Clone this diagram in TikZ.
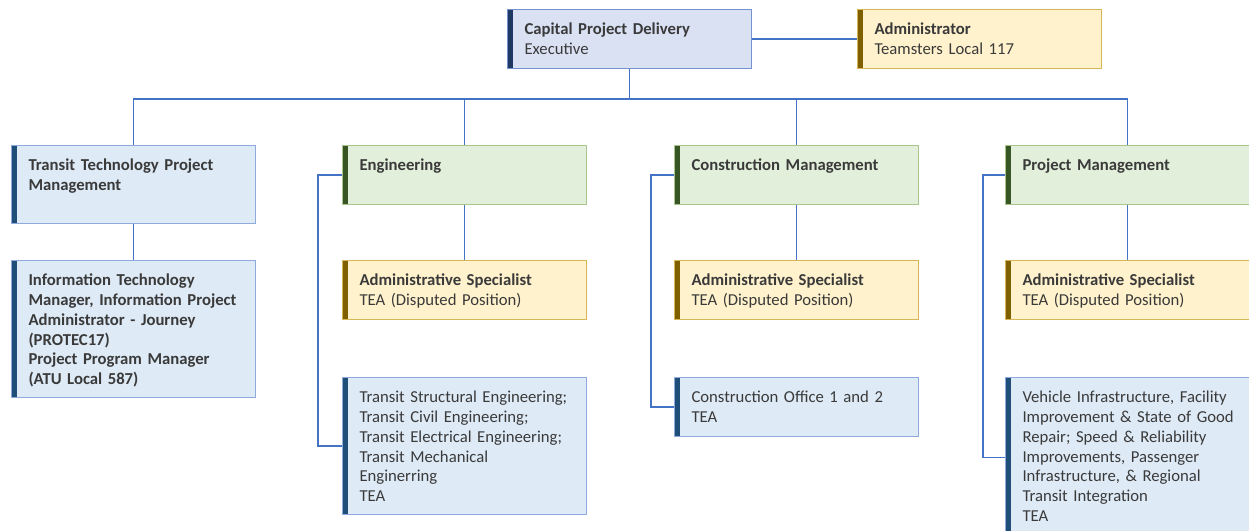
\documentclass[tikz,border=0pt]{standalone}
\usepackage{fontspec}
\setmainfont{Carlito}

\definecolor{linie}{HTML}{4472C4}
\definecolor{schrift}{HTML}{3A3A3A}
\definecolor{blaufill}{HTML}{DEEAF6}
\definecolor{blaurand}{HTML}{8FAADC}
\definecolor{blaubalken}{HTML}{1F4E79}
\definecolor{chefill}{HTML}{DAE1F3}
\definecolor{cherand}{HTML}{7492CF}
\definecolor{chebalken}{HTML}{1F3864}
\definecolor{gruenfill}{HTML}{E2EFDA}
\definecolor{gruenrand}{HTML}{A9C48F}
\definecolor{gruenbalken}{HTML}{375623}
\definecolor{gelbfill}{HTML}{FFF2CC}
\definecolor{gelbrand}{HTML}{D6B656}
\definecolor{gelbbalken}{HTML}{7F6000}

\tikzset{
    card/.style={
        draw,
        rectangle,
        anchor=north west,
        line width=.2mm,
        inner xsep=0pt,
        inner ysep=0pt,
        text width=48.8mm,
        execute at begin node={\leftskip=3.4mm\rightskip=0pt plus 1fil\parfillskip=0pt plus 1fil},
        text=schrift,
        text height=5mm,
        text depth=6.8mm,
        font=\fontsize{9.5}{11.3}\selectfont
    },
    leftbar/.style={
        path picture={
            \fill[#1] (path picture bounding box.north west)
                rectangle ([xshift=1mm]path picture bounding box.south west);
        }
    },
    unit/.style={
        card,
        fill=blaufill,
        draw=blaurand,
        leftbar=blaubalken
    },
    chief/.style={
        card,
        fill=chefill,
        draw=cherand,
        leftbar=chebalken
    },
    division/.style={
        card,
        fill=gruenfill,
        draw=gruenrand,
        leftbar=gruenbalken
    },
    support/.style={
        card,
        fill=gelbfill,
        draw=gelbrand,
        leftbar=gelbbalken
    },
    link/.style={
        draw=linie,
        line width=.25mm
    }
}

\begin{document}
\begin{tikzpicture}[x=.2mm, y=-.2mm]
    \useasboundingbox (0,0) rectangle (1249,531);

    % Leitung und Assistenz
    \path
        node[chief]   at ( 507,  9) (cpd) {\textbf{Capital Project Delivery}\\Executive}
        node[support] at ( 857,  9) (adm) {\textbf{Administrator}\\Teamsters Local 117};

    % Abteilungen
    \path
        node[unit,text depth=10.6mm] at (  11,145) (ttpm) {\textbf{Transit Technology Project}\\\textbf{Management}}
        node[division] at ( 342,145) (eng)  {\textbf{Engineering}}
        node[division] at ( 674,145) (cm)   {\textbf{Construction Management}}
        node[division] at (1005,145) (pm)   {\textbf{Project Management}};

    % Assistenzstellen
    \path
        node[unit,text depth=22.4mm] at (  11,260) (itm)
            {\textbf{Information Technology}\\\textbf{Manager, Information Project}\\
             \textbf{Administrator - Journey}\\\textbf{(PROTEC17)}\\
             \textbf{Project Program Manager}\\\textbf{(ATU Local 587)}}
        node[support] at ( 342,260) (engas) {\textbf{Administrative Specialist}\\TEA (Disputed Position)}
        node[support] at ( 674,260) (cmas)  {\textbf{Administrative Specialist}\\TEA (Disputed Position)}
        node[support] at (1005,260) (pmas)  {\textbf{Administrative Specialist}\\TEA (Disputed Position)};

    % Fachgruppen
    \path
        node[unit,text depth=22.4mm] at ( 342,377) (engteam)
            {Transit Structural Engineering;\\Transit Civil Engineering;\\
             Transit Electrical Engineering;\\Transit Mechanical\\Enginerring\\TEA}
        node[unit] at ( 674,377) (cmoff) {Construction Office 1 and 2\\TEA}
        node[unit,text depth=27mm] at (1005,377) (pmteam)
            {Vehicle Infrastructure, Facility\\Improvement \& State of Good\\
             Repair; Speed \& Reliability\\Improvements, Passenger\\
             Infrastructure, \& Regional\\Transit Integration\\TEA};

    % Verbindungen von oben
    \path (cpd.south) ++(0,30) coordinate (bus);
    \path[link]
        (cpd.east)   edge (adm.west)
        (cpd.south)  edge (bus);
    \path[link]
        (ttpm.north) edge[to path={|- (\tikztotarget)}] (bus)
        (eng.north)  edge[to path={|- (\tikztotarget)}] (bus)
        (cm.north)   edge[to path={|- (\tikztotarget)}] (bus)
        (pm.north)   edge[to path={|- (\tikztotarget)}] (bus);

    % Abteilung zu Assistenz
    \path[link]
        (ttpm.south) edge (itm.north)
        (eng.south)  edge (engas.north)
        (cm.south)   edge (cmas.north)
        (pm.south)   edge (pmas.north);

    % Seitliche Haken zu den Fachgruppen
    \draw[link] (eng.west) -- ++(-24,0) |- (engteam.west);
    \draw[link] (cm.west)  -- ++(-23,0) |- (cmoff.west);
    \draw[link] (pm.west)  -- ++(-22,0) |- (pmteam.west);
\end{tikzpicture}
\end{document}
